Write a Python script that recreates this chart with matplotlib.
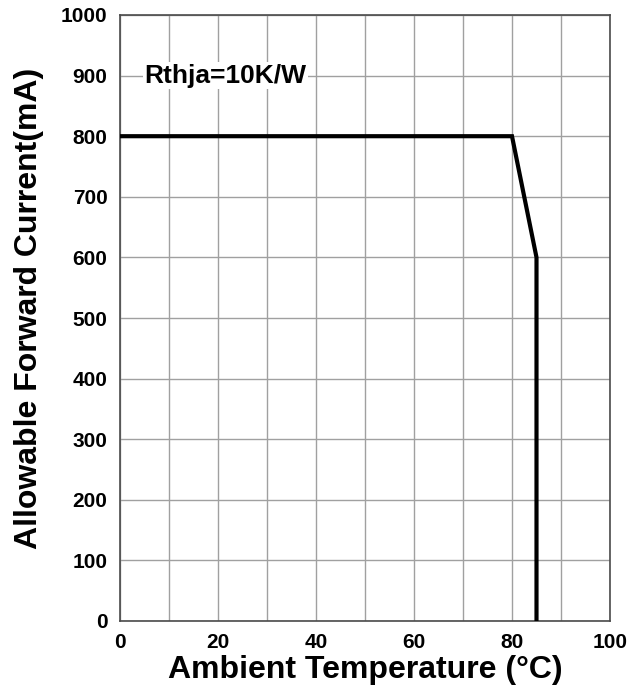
import matplotlib.pyplot as plt
import numpy as np

plt.rcParams['font.family'] = ['Liberation Sans', 'DejaVu Sans']
plt.rcParams['font.weight'] = 'bold'

# derating curve
temp = [0, 80, 85, 85]
current = [800, 800, 600, 0]

x_ticks = [0, 20, 40, 60, 80, 100]
y_ticks = [0, 100, 200, 300, 400, 500, 600, 700, 800, 900, 1000]

fig = plt.figure(figsize=(6.42, 6.97), dpi=100)
ax = fig.add_axes([120 / 642, 1 - 621 / 697, 490 / 642, 606 / 697])

ax.plot(temp, current, color='black', linewidth=3, solid_joinstyle='miter', zorder=3)

ax.set_xlim(0, 100)
ax.set_ylim(0, 1000)
ax.set_xticks(x_ticks)
ax.set_xticks(np.arange(0, 101, 10), minor=True)
ax.set_yticks(y_ticks)
ax.grid(True, which='both', color='#a0a0a0', linewidth=1)
ax.tick_params(which='both', length=0, labelsize=15)
ax.tick_params(axis='y', pad=9)
ax.tick_params(axis='x', pad=9)
for lbl in ax.get_xticklabels() + ax.get_yticklabels():
    lbl.set_fontweight('bold')
for s in ax.spines.values():
    s.set_color('#4a4a4a')
    s.set_linewidth(1.2)

ax.text(5, 900, 'Rthja=10K/W', fontsize=19, fontweight='bold', va='center', ha='left',
        bbox=dict(facecolor='white', edgecolor='none', pad=1), zorder=4)

ax.set_xlabel('Ambient Temperature (°C)', fontsize=23, fontweight='bold')
ax.set_ylabel('Allowable Forward Current(mA)', fontsize=23, fontweight='bold')
ax.xaxis.set_label_coords(0.5, -0.056)
ax.yaxis.set_label_coords(-0.155, 0.516)

fig.savefig('out.png', dpi=100)
